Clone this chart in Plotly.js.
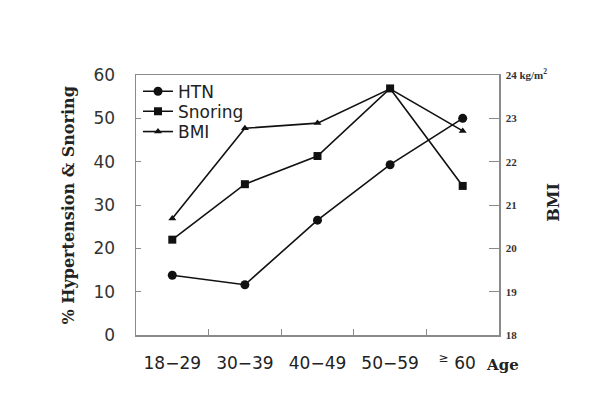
<!DOCTYPE html>
<html><head><meta charset="utf-8">
<script src="https://cdn.plot.ly/plotly-3.0.1.min.js"></script>
<style>html,body{margin:0;padding:0;background:#fff;}#c{width:594px;height:395px;}</style>
</head><body><div id="c"></div>
<script>
var ageGroups = ["18-29", "30-39", "40-49", "50-59", ">=60"];
var tickLabels = ["18\u221229", "30\u221239", "40\u221249", "50\u221259", "<sup>\u2265</sup> 60\u00a0\u00a0"];
var htn = [13.8, 11.6, 26.5, 39.3, 50.0];
var snoring = [22.0, 34.8, 41.3, 56.9, 34.4];
var bmi = [20.69, 22.77, 22.89, 23.68, 22.71];
var bmiTicks = [18, 19, 20, 21, 22, 23, 24];
var bmiTickText = ["18", "19", "20", "21", "22", "23", "24 kg/m<sup>2</sup>"];

var lineStyle = {color: "#111", width: 1.6};
var traces = [
  {x: ageGroups, y: htn, name: "HTN", type: "scatter", mode: "lines+markers", legend: "legend",
   line: lineStyle, marker: {symbol: "circle", size: 9, color: "#111"}},
  {x: ageGroups, y: snoring, name: "Snoring", type: "scatter", mode: "lines+markers", legend: "legend2",
   line: lineStyle, marker: {symbol: "square", size: 8, color: "#111"}},
  {x: ageGroups, y: bmi, name: "BMI", type: "scatter", mode: "lines+markers", yaxis: "y2", legend: "legend3",
   line: lineStyle, marker: {symbol: "triangle-up", size: 7, color: "#111"}}
];

var axisColor = "#8a8a8a";
var legFont = {family: "DejaVu Sans", size: 17, color: "#222"};
function leg(y) {
  return {x: 0.0055, y: y, xanchor: "left", yanchor: "top", bgcolor: "rgba(0,0,0,0)", font: legFont};
}
var layout = {
  width: 594, height: 395,
  margin: {l: 136, r: 95, t: 75, b: 60},
  paper_bgcolor: "#fff", plot_bgcolor: "#fff",
  showlegend: true,
  legend: leg(1.005),
  legend2: leg(0.928),
  legend3: leg(0.85),
  xaxis: {type: "category", range: [-0.5, 4.5], tickvals: ageGroups, ticktext: tickLabels,
    tickson: "boundaries", ticks: "inside", ticklen: 6, tickcolor: axisColor,
    showline: true, linecolor: axisColor, linewidth: 1.5, mirror: true,
    showgrid: false, zeroline: false, ticklabelstandoff: 12,
    tickfont: {family: "DejaVu Sans", size: 17, color: "#222"}},
  yaxis: {range: [0, 60], dtick: 10, ticks: "inside", ticklen: 5, tickcolor: axisColor,
    showline: true, linecolor: axisColor, linewidth: 1.5, showgrid: false, zeroline: false,
    ticklabelstandoff: 16,
    tickfont: {family: "DejaVu Sans", size: 17, color: "#333"}},
  yaxis2: {range: [18, 24], overlaying: "y", side: "right", tickmode: "array",
    tickvals: bmiTicks, ticktext: bmiTickText, ticks: "inside", ticklen: 10, tickcolor: axisColor,
    showline: true, linecolor: axisColor, linewidth: 1.5, showgrid: false, zeroline: false,
    ticklabelstandoff: 3,
    tickfont: {family: "Liberation Serif", size: 11, weight: "bold", color: "#333"}},
  annotations: [
    {text: "<b>% Hypertension &amp; Snoring</b>", xref: "paper", yref: "paper",
     x: -0.186, y: 0.5, xanchor: "center", yanchor: "middle", textangle: -90, showarrow: false,
     font: {family: "DejaVu Serif", size: 16, color: "#222"}},
    {text: "<b>BMI</b>", xref: "paper", yref: "paper",
     x: 1.15, y: 0.51, xanchor: "center", yanchor: "middle", textangle: -90, showarrow: false,
     font: {family: "DejaVu Serif", size: 16, color: "#222"}},
    {text: "<b>Age</b>", xref: "paper", yref: "paper",
     x: 1.01, y: -0.115, xanchor: "center", yanchor: "middle", showarrow: false,
     font: {family: "DejaVu Serif", size: 15, color: "#222"}}
  ]
};
Plotly.newPlot("c", traces, layout, {displayModeBar: false, staticPlot: true});
</script></body></html>
